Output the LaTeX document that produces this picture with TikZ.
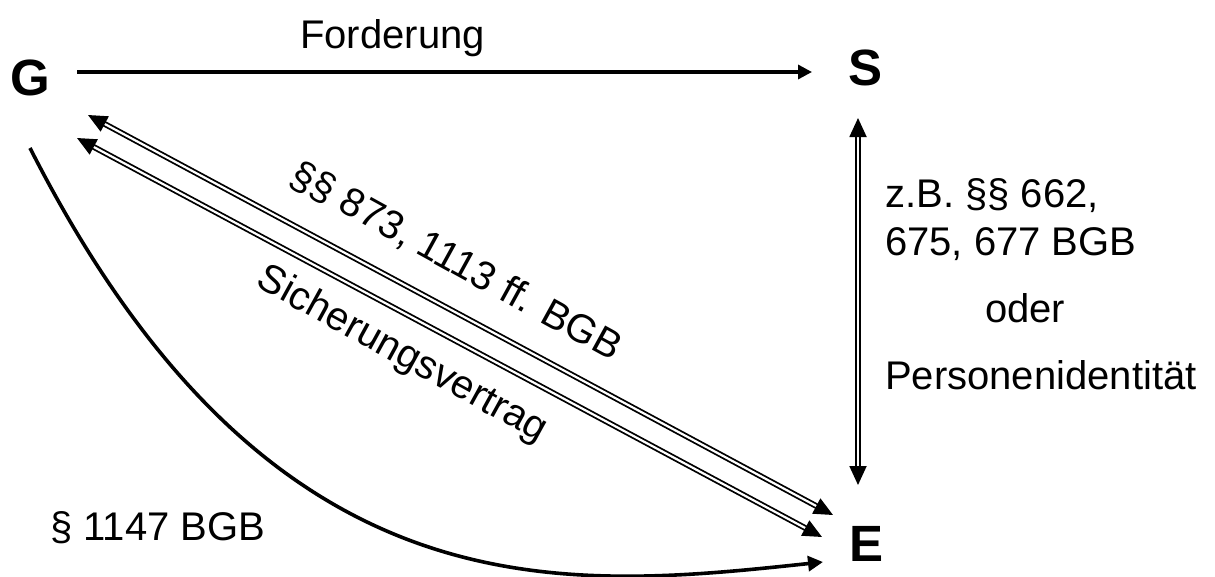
\documentclass[tikz,border=0pt]{standalone}
\usepackage{fontspec}
\setmainfont{Liberation Sans}
\usetikzlibrary{arrows.meta}
\begin{document}
\begin{tikzpicture}[x=1pt,y=-1pt,
  lbl/.style={inner sep=0pt, font=\fontsize{40}{48}\selectfont},
  big/.style={inner sep=0pt, font=\fontsize{51}{60}\selectfont\bfseries},
  single/.style={line width=3.3pt, -{Triangle[length=14pt,width=14pt]}},
  dbl/.style={double, line width=1.8pt, double distance=2.2pt,
    {Triangle[length=19pt,width=17pt]}-{Triangle[length=19pt,width=17pt]}},
  curv/.style={line width=3.6pt, -{Triangle[length=15pt,width=15pt]}}]
\useasboundingbox (0,0) rectangle (1215,576);
% main letters
\node[big, anchor=base west] (G) at (10,95) {G};
\node[big, anchor=base west] (S) at (848,85) {S};
\node[big, anchor=base west] (E) at (849,561) {E};
% endpoints
\coordinate (h1) at (77,72);
\coordinate (h2) at (812,72);
\coordinate (u1) at (88,115);
\coordinate (u2) at (833,515);
\coordinate (l1) at (77,138);
\coordinate (l2) at (822,537);
\coordinate (v1) at (858,118);
\coordinate (v2) at (858,485);
\coordinate (c1) at (30,148);
\coordinate (c2) at (823,562);
% connectors
\draw[single] (h1) -- (h2);
\draw[dbl] (u1) -- (u2);
\draw[dbl] (l1) -- (l2);
\draw[dbl] (v1) -- (v2);
\draw[curv] (c1) .. controls (270,620) and (560,590) .. (c2);
% labels
\node[lbl, anchor=base west] (ford) at (300,48) {Forderung};
\node[lbl, anchor=base west] (par) at (50,540) {§ 1147 BGB};
\node[lbl, rotate=-28.8] (bgb) at (456,262) {§§ 873, 1113 ff. BGB};
\node[lbl, rotate=-28.8] (sich) at (402,355) {Sicherungsvertrag};
\node[lbl, anchor=base west] (r1) at (885,207) {z.B. §§ 662,};
\node[lbl, anchor=base west] (r2) at (885,255) {675, 677 BGB};
\node[lbl, anchor=base west] (r3) at (985,322) {oder};
\node[lbl, anchor=base west] (r4) at (885,389) {Personenidentität};
\end{tikzpicture}
\end{document}
